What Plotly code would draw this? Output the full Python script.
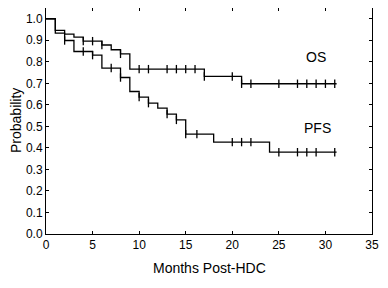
import numpy as np
import plotly.graph_objects as go

# OS (overall survival) step curve
os_times = [0, 1, 2, 3, 4, 6, 7, 8, 9, 17, 21]
os_surv = [1.0, 0.946, 0.929, 0.915, 0.896, 0.878, 0.856, 0.837, 0.766, 0.732, 0.698]
os_end = 31.2
os_censor = [4, 5, 6, 8, 10, 11, 13, 14, 15, 16, 17, 20, 21, 22, 25, 27, 28, 29, 30, 31]

# PFS (progression-free survival) step curve
pfs_times = [0, 1, 2, 3, 5, 6, 8, 9, 10, 11, 12, 13, 14, 15, 18, 24]
pfs_surv = [1.0, 0.933, 0.899, 0.848, 0.831, 0.771, 0.727, 0.662, 0.636, 0.608,
            0.585, 0.557, 0.530, 0.464, 0.427, 0.380]
pfs_end = 31.2
pfs_censor = [2, 4, 5, 7, 8, 10, 11, 13, 14, 15, 16.2, 20, 21, 22, 25, 27, 28, 29, 31]

x_ticks = [0, 5, 10, 15, 20, 25, 30, 35]
y_ticks = [0.0, 0.1, 0.2, 0.3, 0.4, 0.5, 0.6, 0.7, 0.8, 0.9, 1.0]

FONT = "Arial, Liberation Sans, sans-serif"


def step_at(times, surv, t):
    i = np.searchsorted(np.array(times), t, side="right") - 1
    return surv[i]


fig = go.Figure()
for times, surv, end, cens in [(os_times, os_surv, os_end, os_censor),
                               (pfs_times, pfs_surv, pfs_end, pfs_censor)]:
    fig.add_trace(go.Scatter(x=list(times) + [end], y=list(surv) + [surv[-1]],
                             mode="lines", line=dict(shape="hv", color="black", width=1.3),
                             showlegend=False, hoverinfo="skip"))
    fig.add_trace(go.Scatter(x=cens, y=[step_at(times, surv, c) for c in cens],
                             mode="markers",
                             marker=dict(symbol="line-ns", size=6,
                                         line=dict(color="black", width=1.3)),
                             showlegend=False, hoverinfo="skip"))

fig.add_annotation(x=29.0, y=0.823, text="OS", showarrow=False,
                   font=dict(family=FONT, size=14, color="black"))
fig.add_annotation(x=29.2, y=0.493, text="PFS", showarrow=False,
                   font=dict(family=FONT, size=14, color="black"))

# axis titles as annotations for exact placement
fig.add_annotation(xref="paper", yref="paper", x=0, y=0.5, xshift=-30, textangle=-90,
                   text="Probability", showarrow=False, xanchor="center", yanchor="middle",
                   font=dict(family=FONT, size=14, color="black"))
fig.add_annotation(xref="paper", yref="paper", x=0.5, y=0, yshift=-34,
                   text="Months Post-HDC", showarrow=False, xanchor="center", yanchor="middle",
                   font=dict(family=FONT, size=14, color="black"))

# page body has an 8px margin; size the figure to fit inside the 388x288 window
fig.update_layout(
    width=372, height=272,
    margin=dict(l=38, r=8, t=0, b=46),
    paper_bgcolor="white", plot_bgcolor="white",
    font=dict(family=FONT, size=12, color="black"),
    xaxis=dict(range=[0, 35], tickvals=x_ticks, ticktext=[str(v) for v in x_ticks],
               ticks="inside", ticklen=3, tickcolor="black", showgrid=False, zeroline=False,
               showline=True, linecolor="black", linewidth=1, mirror="ticks",
               automargin=False),
    yaxis=dict(range=[0, 1.05], tickvals=y_ticks, ticktext=[f"{v:.1f}" for v in y_ticks],
               ticks="inside", ticklen=3, tickcolor="black", showgrid=False, zeroline=False,
               showline=True, linecolor="black", linewidth=1, mirror="ticks",
               automargin=False),
)

fig.write_html("out.html")
